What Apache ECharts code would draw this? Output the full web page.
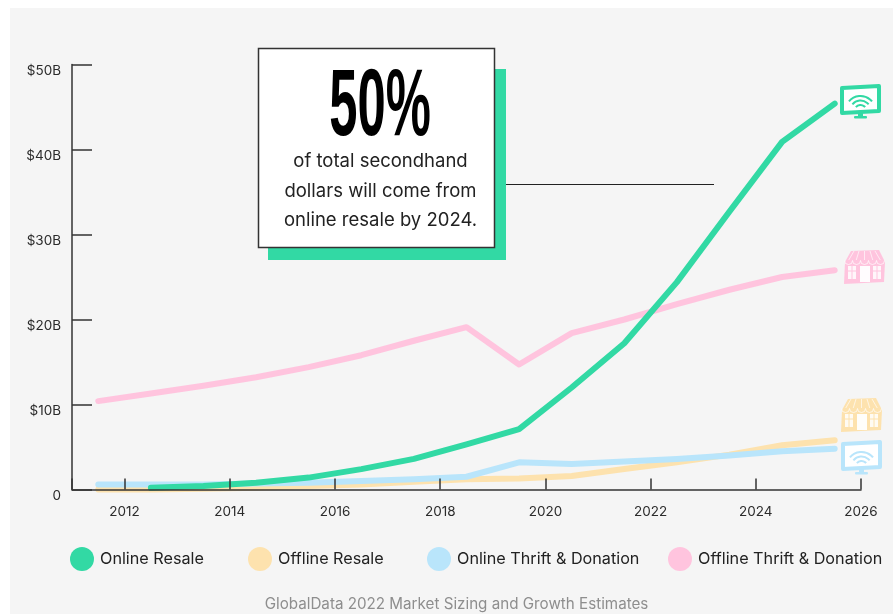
<!DOCTYPE html>
<html>
<head>
<meta charset="utf-8">
<style>html,body{margin:0;padding:0;background:#fff}#c{width:893px;height:614px}</style>
<script src="https://cdn.jsdelivr.net/npm/echarts@6/dist/echarts.min.js"></script>
</head>
<body>
<div id="c"></div>
<script>
// Secondhand market size, $ billions, sampled mid-year
const years = [2011.5, 2012.5, 2013.5, 2014.5, 2015.5, 2016.5, 2017.5, 2018.5, 2019.5, 2020.5, 2021.5, 2022.5, 2023.5, 2024.5, 2025.5];
const onlineResale = [null, 0.2, 0.4, 0.8, 1.4, 2.4, 3.6, 5.3, 7.1, 12, 17.2, 24.4, 32.7, 40.9, 45.4];
const offlineResale = [0, 0, 0.1, 0.2, 0.4, 0.6, 0.9, 1.2, 1.3, 1.6, 2.4, 3.2, 4.1, 5.2, 5.8];
const onlineThrift = [0.6, 0.6, 0.6, 0.7, 0.8, 1.0, 1.2, 1.5, 3.2, 3.0, 3.3, 3.6, 4.0, 4.5, 4.8];
const offlineThrift = [10.4, 11.3, 12.2, 13.2, 14.4, 15.8, 17.5, 19.1, 14.7, 18.4, 20, 21.8, 23.5, 25, 25.8];
const xTicks = [2011, 2012, 2014, 2016, 2018, 2020, 2022, 2024, 2026];
const xLabels = [2012, 2014, 2016, 2018, 2020, 2022, 2024, 2026];

const GREEN = '#32d9a4', PEACH = '#fde2ae', BLUE = '#b9e5fb', PINK = '#ffc4de';
const INK = '#2b2b2b', FONT = 'Inter, "Open Sans", sans-serif';

const pairs = vals => years.map((y, i) => [y, vals[i]]).filter(p => p[1] !== null);

function lineSeries(name, vals, color, width) {
  return {
    name, type: 'line', data: pairs(vals), symbol: 'none', clip: false,
    lineStyle: { color, width, cap: 'round', join: 'round' },
    itemStyle: { color }
  };
}

function legendFor(name, left) {
  return {
    data: [name], left, top: 547, padding: 0, icon: 'circle', itemWidth: 24, itemHeight: 24,
    selectedMode: false,
    textStyle: { fontFamily: FONT, fontSize: 16.2, color: '#222', padding: [0, 0, 0, 1] }
  };
}

// Monitor pictogram with wifi arcs, origin at the top-left of the frame
function monitorIcon(x, y, color) {
  const arc = r => ({
    type: 'arc',
    shape: { cx: 19.5, cy: 25, r, startAngle: -Math.PI * 0.78, endAngle: -Math.PI * 0.22 },
    style: { stroke: color, lineWidth: 2, fill: null }
  });
  return {
    type: 'group', x, y, z: 10,
    children: [
      { type: 'polygon', shape: { points: [[1, 2], [38, 0], [38, 25], [1, 27]] },
        style: { fill: '#fff', stroke: color, lineWidth: 4, lineJoin: 'round' } },
      arc(15), arc(10.5), arc(6),
      { type: 'rect', shape: { x: 17, y: 27, width: 5, height: 4 }, style: { fill: color } },
      { type: 'rect', shape: { x: 13, y: 30, width: 13, height: 2.5, r: 1 }, style: { fill: color } }
    ]
  };
}

// Storefront pictogram with awning, door and two windows
function storeIcon(x, y, color) {
  const pane = px => [
    { type: 'rect', shape: { x: px, y: 16, width: 8, height: 13 }, style: { fill: '#fff', opacity: 0.85 } },
    { type: 'line', shape: { x1: px + 4, y1: 16, x2: px + 4, y2: 29 }, style: { stroke: color, lineWidth: 1 } },
    { type: 'line', shape: { x1: px, y1: 21, x2: px + 8, y2: 21 }, style: { stroke: color, lineWidth: 1 } }
  ];
  const stripes = [10, 15, 20.5, 26, 31].map(sx => ({
    type: 'line', shape: { x1: sx, y1: 1, x2: sx + (sx - 20.5) * 0.5, y2: 10 },
    style: { stroke: '#fff', lineWidth: 0.8, opacity: 0.8 }
  }));
  const scallops = [4.5, 12.5, 20.5, 28.5, 36.5].map(cx => ({
    type: 'arc', shape: { cx, cy: 10.5, r: 4, startAngle: 0, endAngle: Math.PI },
    style: { stroke: '#fff', lineWidth: 0.8, fill: null, opacity: 0.85 }
  }));
  return {
    type: 'group', x, y, z: 10,
    children: [
      { type: 'polygon', shape: { points: [[7, 1], [35, 0], [41, 12], [40, 32], [0, 34], [1, 12]] },
        style: { fill: color } },
      ...stripes, ...scallops,
      ...pane(4), ...pane(29),
      { type: 'rect', shape: { x: 16, y: 16, width: 10, height: 16 }, style: { fill: '#fff', opacity: 0.95 } }
    ]
  };
}

const graphics = [
  // Panel behind the plot
  { type: 'rect', z: -10, shape: { x: 10, y: 8, width: 883, height: 606 }, style: { fill: '#f5f5f5' } },
  // Callout: connector, offset block, framed card
  { type: 'line', z: 10, shape: { x1: 500, y1: 184.5, x2: 714, y2: 184.5 }, style: { stroke: '#222', lineWidth: 1 } },
  { type: 'rect', z: 11, shape: { x: 268, y: 69, width: 238, height: 191 }, style: { fill: GREEN } },
  { type: 'rect', z: 12, shape: { x: 258.5, y: 48.5, width: 236, height: 199 }, style: { fill: '#fff', stroke: '#333', lineWidth: 1.5 } },
  { type: 'text', z: 13, x: 380, y: 109.5, scaleX: 0.54,
    style: { text: '50%', fill: '#000', font: 'bold 94px "Liberation Sans", sans-serif', textAlign: 'center', textVerticalAlign: 'middle' } },
  ...['of total secondhand', 'dollars will come from', 'online resale by 2024.'].map((t, i) => ({
    type: 'text', z: 13, x: 380.5, y: 161.5 + i * 29.5,
    style: { text: t, fill: '#222', font: '18.5px ' + FONT, textAlign: 'center', textVerticalAlign: 'middle' }
  })),
  { type: 'text', z: 5, x: 456.5, y: 604,
    style: { text: 'GlobalData 2022 Market Sizing and Growth Estimates', fill: '#8e8e8e', font: '15.2px ' + FONT, textAlign: 'center', textVerticalAlign: 'middle' } },
  monitorIcon(841, 86, GREEN),
  storeIcon(844, 250, PINK),
  storeIcon(841, 398, PEACH),
  monitorIcon(842, 442, BLUE)
];

const chart = echarts.init(document.getElementById('c'), null, { renderer: 'canvas' });
chart.setOption({
  animation: false,
  backgroundColor: '#ffffff',
  grid: { left: 72, right: 32, top: 64.5, bottom: 124.5 },
  legend: [
    legendFor('Online Resale', 70),
    legendFor('Offline Resale', 248),
    legendFor('Online Thrift & Donation', 427),
    legendFor('Offline Thrift & Donation', 668)
  ],
  xAxis: {
    type: 'value', min: 2011, max: 2026, z: 6, splitLine: { show: false },
    axisLine: { show: true, lineStyle: { color: '#333', width: 1.5 } },
    axisTick: { show: true, inside: true, length: 11, customValues: xTicks, lineStyle: { color: '#333', width: 1.5 } },
    axisLabel: { customValues: xLabels, margin: 15, fontFamily: FONT, fontSize: 13.5, color: INK, formatter: v => String(v) }
  },
  yAxis: {
    type: 'value', min: 0, max: 50, interval: 10, z: 6, splitLine: { show: false },
    axisLine: { show: true, lineStyle: { color: '#333', width: 1.5 } },
    axisTick: { show: true, inside: true, length: 20, lineStyle: { color: '#333', width: 1.5 } },
    axisLabel: {
      margin: 11, verticalAlign: 'top', lineHeight: 12, fontFamily: FONT, fontSize: 13.5, color: INK,
      formatter: v => v === 0 ? '0' : '$' + v + 'B'
    }
  },
  series: [
    lineSeries('Offline Resale', offlineResale, PEACH, 6),
    lineSeries('Offline Thrift & Donation', offlineThrift, PINK, 6),
    lineSeries('Online Thrift & Donation', onlineThrift, BLUE, 6),
    lineSeries('Online Resale', onlineResale, GREEN, 6)
  ],
  graphic: graphics
});
</script>
</body>
</html>
